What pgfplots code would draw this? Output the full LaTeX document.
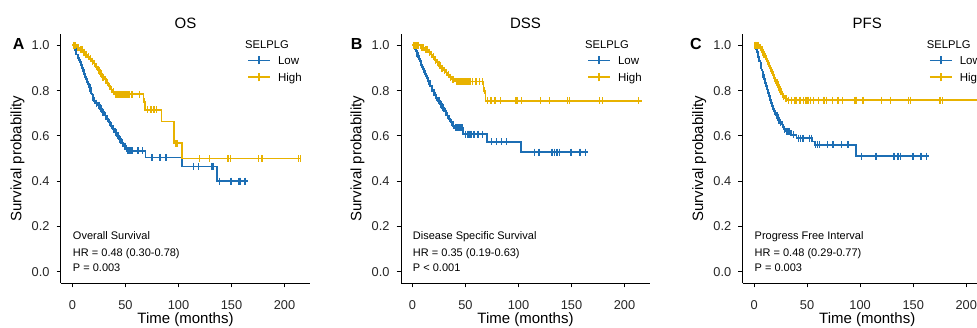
\documentclass[border=0pt]{standalone}
\usepackage{fontspec}
\setmainfont{Liberation Sans}
\usepackage{pgfplots}
\usepackage{pgfplotstable}
\pgfplotsset{compat=1.18}
\definecolor{kmblue}{RGB}{28,110,180}
\definecolor{kmgold}{RGB}{232,178,0}

% ---------- Panel A (OS) ----------
\pgfplotstableread{
t y
0 1.0
2 0.99
3 0.975
4 0.96
5 0.945
6 0.935
7 0.925
8 0.915
9 0.90
10 0.89
11 0.875
12 0.86
13 0.85
14 0.84
15 0.83
16 0.815
17 0.80
18 0.785
19 0.77
20 0.755
22 0.745
24 0.735
26 0.72
28 0.705
30 0.69
32 0.675
34 0.66
36 0.645
38 0.63
40 0.615
42 0.60
44 0.585
46 0.57
48 0.555
51 0.535
69 0.505
103 0.465
136 0.40
166 0.40
}\AlowS
\pgfplotstableread{
t y
1 1.0
2.5 0.99
3.5 0.975
5.5 0.945
7.5 0.925
9.5 0.90
11.5 0.875
13.5 0.85
14.5 0.84
16.5 0.815
17.5 0.80
19.5 0.77
21 0.755
23 0.745
25 0.735
27 0.72
29 0.705
31 0.69
33 0.675
35 0.66
37 0.645
39 0.63
41 0.615
43 0.60
45 0.585
47 0.57
49 0.555
50 0.555
52 0.535
53 0.535
54 0.535
55 0.535
55.5 0.535
56 0.535
57 0.535
62 0.535
66 0.535
75 0.505
82.7 0.505
88.4 0.505
114 0.465
119 0.465
131 0.465
132.5 0.465
138.7 0.40
149.4 0.40
157 0.40
158 0.40
162.6 0.40
}\AlowC
\pgfplotstableread{
t y
0 1.0
4 0.99
7 0.98
10 0.97
12 0.96
14 0.95
16 0.94
18 0.93
20 0.92
22 0.905
24 0.89
26 0.875
28 0.86
30 0.85
32 0.835
34 0.82
36 0.805
38 0.795
40 0.784
67 0.75
68.5 0.716
84 0.664
95.5 0.567
103.5 0.50
215 0.50
}\AhighS
\pgfplotstableread{
t y
1 1.0
2 1.0
3 1.0
5 0.99
6 0.99
8 0.98
9 0.98
11 0.97
13 0.96
15 0.95
17 0.94
19 0.93
21 0.92
23 0.905
25 0.89
27 0.875
29 0.86
31 0.85
33 0.835
35 0.82
37 0.805
39 0.795
41 0.784
42 0.784
43 0.784
44 0.784
45 0.784
46 0.784
47 0.784
48 0.784
49 0.784
50 0.784
51 0.784
52 0.784
53 0.784
54 0.784
56 0.784
57 0.784
63 0.784
67.7 0.75
70.8 0.716
74 0.716
77 0.716
79.6 0.716
97 0.567
98.5 0.567
120 0.50
129 0.50
146.6 0.50
148.8 0.50
175.5 0.50
178.7 0.50
213 0.50
214.8 0.50
}\AhighC

% ---------- Panel B (DSS) ----------
\pgfplotstableread{
t y
0 1.0
2 0.985
4 0.965
5 0.95
6 0.94
7 0.93
8 0.915
9 0.905
10 0.895
11 0.885
12 0.875
13 0.865
14 0.855
15 0.84
16 0.83
17 0.82
18 0.81
19 0.80
20 0.79
21 0.78
22 0.77
24 0.755
26 0.74
28 0.725
30 0.71
32 0.69
34 0.675
36 0.66
38 0.645
40 0.635
48 0.608
70 0.574
102.3 0.528
166 0.528
}\BlowS
\pgfplotstableread{
t y
1 1.0
3 0.985
4.5 0.965
6.5 0.94
8.5 0.915
10.5 0.895
12.5 0.875
14.5 0.855
16.5 0.83
18.5 0.81
20.5 0.79
21.5 0.78
23 0.77
25 0.755
27 0.74
29 0.725
31 0.71
33 0.69
35 0.675
37 0.66
39 0.645
41 0.635
43 0.635
45 0.635
46 0.635
47 0.635
50 0.608
52 0.608
53 0.608
54 0.608
55 0.608
56 0.608
58 0.608
62 0.608
66 0.608
74.9 0.574
79.6 0.574
84.3 0.574
89 0.574
114.8 0.528
119.5 0.528
131.5 0.528
133.7 0.528
136.2 0.528
138.7 0.528
149.4 0.528
157.3 0.528
158.2 0.528
162.9 0.528
}\BlowC
\pgfplotstableread{
t y
0 1.0
8 0.99
12 0.98
15 0.97
17 0.96
19 0.95
21 0.935
23 0.925
25 0.91
27 0.90
29 0.89
31 0.88
33 0.87
35 0.86
37 0.85
40 0.84
67 0.80
69 0.756
216 0.756
}\BhighS
\pgfplotstableread{
t y
1 1.0
2 1.0
3 1.0
4 1.0
5 1.0
6 1.0
9 0.99
10 0.99
13 0.98
14 0.98
16 0.97
18 0.96
20 0.95
22 0.935
24 0.925
26 0.91
28 0.90
30 0.89
32 0.88
34 0.87
36 0.86
38 0.85
39 0.85
42 0.84
43 0.84
44 0.84
45 0.84
46 0.84
47 0.84
48 0.84
49 0.84
50 0.84
51 0.84
52 0.84
53 0.84
54 0.84
55 0.84
57 0.84
60 0.84
63 0.84
66 0.84
68 0.80
70.8 0.756
74 0.756
78 0.756
83.4 0.756
96.9 0.756
98.5 0.756
103.2 0.756
120.5 0.756
129.2 0.756
146.2 0.756
148.1 0.756
176.1 0.756
179.2 0.756
213.2 0.756
}\BhighC

% ---------- Panel C (PFS) ----------
\pgfplotstableread{
t y
0 1.0
2 0.985
3 0.97
4 0.95
5 0.93
6 0.91
7 0.89
8 0.87
9 0.85
10 0.835
11 0.82
12 0.805
13 0.79
14 0.775
15 0.76
16 0.745
17 0.73
18 0.72
19 0.71
20 0.70
21 0.69
22 0.68
23 0.67
24 0.66
26 0.65
27 0.64
28 0.63
30 0.62
35 0.605
40 0.59
55 0.575
57 0.561
96.2 0.511
165 0.511
}\ClowS
\pgfplotstableread{
t y
1 1.0
2.5 0.985
4.5 0.95
6.5 0.91
8.5 0.87
10.5 0.835
11.5 0.82
12.5 0.805
13.5 0.79
14.5 0.775
16.5 0.745
17.5 0.73
18.5 0.72
19.5 0.71
21.5 0.69
22.5 0.68
23.5 0.67
25 0.66
26.5 0.65
29 0.63
31 0.62
33 0.62
37 0.605
42 0.59
44 0.59
46 0.59
52 0.59
54 0.59
58 0.561
60 0.561
62 0.561
68.9 0.561
74.5 0.561
82.4 0.561
88.6 0.561
101.2 0.511
115 0.511
131.1 0.511
132.6 0.511
135.8 0.511
137.9 0.511
149.9 0.511
156.8 0.511
157.7 0.511
162.4 0.511
}\ClowC
\pgfplotstableread{
t y
0 1.0
5 0.99
7 0.98
8 0.97
9 0.96
10 0.95
11 0.94
12 0.93
13 0.92
14 0.91
15 0.90
16 0.89
17 0.88
18 0.87
19 0.855
20 0.845
21 0.835
22 0.825
23 0.815
24 0.805
25 0.795
26 0.785
27 0.775
29 0.765
31 0.758
216 0.758
}\ChighS
\pgfplotstableread{
t y
1 1.0
2 1.0
3 1.0
4 1.0
6 0.99
7.5 0.98
8.5 0.97
9.5 0.96
10.5 0.95
11.5 0.94
12.5 0.93
13.5 0.92
14.5 0.91
15.5 0.90
16.5 0.89
17.5 0.88
18.5 0.87
19.5 0.855
20.5 0.845
21.5 0.835
22.5 0.825
23.5 0.815
24.5 0.805
25.5 0.795
26.5 0.785
28 0.775
30 0.765
32.5 0.758
35.6 0.758
38.7 0.758
40.3 0.758
43.4 0.758
46.6 0.758
48.2 0.758
49.8 0.758
51.3 0.758
52.9 0.758
56 0.758
60.8 0.758
65.5 0.758
66.7 0.758
68.6 0.758
74 0.758
79.2 0.758
83.4 0.758
95 0.758
96.6 0.758
102.8 0.758
120.2 0.758
128.7 0.758
145.3 0.758
147.5 0.758
175.2 0.758
177.7 0.758
}\ChighC

\pgfplotsset{
  km/.style={
    scale only axis, width=249pt, height=248.7pt,
    xmin=-10.7, xmax=224, ymin=-0.05, ymax=1.049,
    axis x line*=bottom, axis y line*=left,
    axis line style={line width=1pt, black, -},
    xtick={0,50,100,150,200}, ytick={0,0.2,0.4,0.6,0.8,1},
    tick align=outside, major tick length=4.3pt,
    tick style={line width=1pt, black},
    /pgf/number format/assume math mode=true,
    yticklabel style={/pgf/number format/fixed,/pgf/number format/fixed zerofill,/pgf/number format/precision=1,
      anchor=east, inner sep=0pt, xshift=-7pt},
    xticklabel style={anchor=base, inner sep=0pt, yshift=-22pt},
    ticklabel style={font=\fontsize{12.8}{14}\selectfont, text=black!85},
    every axis x label/.style={at={(rel axis cs:0.5,0)}, anchor=base, yshift=-40.3pt, font=\fontsize{15}{18}\selectfont},
    every axis y label/.style={at={(rel axis cs:0,0.5)}, anchor=center, xshift=-43.5pt, rotate=90, font=\fontsize{15}{18}\selectfont},
    every axis title/.style={at={(rel axis cs:0.5,1)}, anchor=base, yshift=6pt, font=\fontsize{15}{18}\selectfont},
    xlabel={Time (months)}, ylabel={Survival probability},
    legend style={at={(rel axis cs:0.748,0.861)}, anchor=west, draw=none, fill=none,
      inner sep=0pt, outer sep=0pt, row sep=7.5pt, column sep=7pt,
      nodes={inner sep=0pt, text height=8.2pt, text depth=0pt, font=\fontsize{11.5}{13}\selectfont},
      cells={anchor=west}},
    legend image code/.code={
      \draw[#1, line width=1.8pt] (0pt,0pt) -- (22pt,0pt);
      \draw[#1, line width=1.4pt] (11pt,-4pt) -- (11pt,4pt);
    },
  },
  kmstep/.style={const plot, line width=1.8pt, color=#1},
  kmcens/.style={only marks, mark=|, mark size=3.5pt, color=#1, mark options={line width=1.3pt, color=#1}, forget plot},
}

\newcommand{\legtitle}{\node[anchor=base west, font=\fontsize{11.2}{13}\selectfont, inner sep=0pt] at (rel axis cs:0.739,0.9437) {SELPLG};}

\begin{document}
\begin{tikzpicture}[x=1pt,y=1pt]
% Panel A
\begin{axis}[km, at={(61pt,44pt)}, anchor=south west, title={OS}]
  \addplot[kmstep=kmblue] table[x=t,y=y] {\AlowS};
  \addlegendentry{Low}
  \addplot[kmstep=kmgold] table[x=t,y=y] {\AhighS};
  \addlegendentry{High}
  \addplot[kmcens=kmblue] table[x=t,y=y] {\AlowC};
  \addplot[kmcens=kmgold] table[x=t,y=y] {\AhighC};
  \legtitle
  \node[anchor=base west, font=\fontsize{11}{13}\selectfont, inner sep=0pt] at (axis cs:0.4,0.142) {Overall Survival};
  \node[anchor=base west, font=\fontsize{11}{13}\selectfont, inner sep=0pt] at (axis cs:0.4,0.0685) {HR = 0.48 (0.30-0.78)};
  \node[anchor=base west, font=\fontsize{11}{13}\selectfont, inner sep=0pt] at (axis cs:0.4,0.0022) {P = 0.003};
\end{axis}
% Panel B
\begin{axis}[km, at={(401pt,44pt)}, anchor=south west, title={DSS}]
  \addplot[kmstep=kmblue] table[x=t,y=y] {\BlowS};
  \addlegendentry{Low}
  \addplot[kmstep=kmgold] table[x=t,y=y] {\BhighS};
  \addlegendentry{High}
  \addplot[kmcens=kmblue] table[x=t,y=y] {\BlowC};
  \addplot[kmcens=kmgold] table[x=t,y=y] {\BhighC};
  \legtitle
  \node[anchor=base west, font=\fontsize{11}{13}\selectfont, inner sep=0pt] at (axis cs:0.4,0.142) {Disease Specific Survival};
  \node[anchor=base west, font=\fontsize{11}{13}\selectfont, inner sep=0pt] at (axis cs:0.4,0.0685) {HR = 0.35 (0.19-0.63)};
  \node[anchor=base west, font=\fontsize{11}{13}\selectfont, inner sep=0pt] at (axis cs:0.4,0.0022) {P < 0.001};
\end{axis}
% Panel C
\begin{axis}[km, at={(742.7pt,44pt)}, anchor=south west, title={PFS}]
  \addplot[kmstep=kmblue] table[x=t,y=y] {\ClowS};
  \addlegendentry{Low}
  \addplot[kmstep=kmgold] table[x=t,y=y] {\ChighS};
  \addlegendentry{High}
  \addplot[kmcens=kmblue] table[x=t,y=y] {\ClowC};
  \addplot[kmcens=kmgold] table[x=t,y=y] {\ChighC};
  \legtitle
  \node[anchor=base west, font=\fontsize{11}{13}\selectfont, inner sep=0pt] at (axis cs:0.4,0.142) {Progress Free Interval};
  \node[anchor=base west, font=\fontsize{11}{13}\selectfont, inner sep=0pt] at (axis cs:0.4,0.0685) {HR = 0.48 (0.29-0.77)};
  \node[anchor=base west, font=\fontsize{11}{13}\selectfont, inner sep=0pt] at (axis cs:0.4,0.0022) {P = 0.003};
\end{axis}
\node[anchor=base west, inner sep=0pt, font=\fontsize{16}{18}\selectfont\bfseries] at (12.7,277.3) {A};
\node[anchor=base west, inner sep=0pt, font=\fontsize{16}{18}\selectfont\bfseries] at (350.7,277.3) {B};
\node[anchor=base west, inner sep=0pt, font=\fontsize{16}{18}\selectfont\bfseries] at (690,277.3) {C};
\pgfresetboundingbox
\path[use as bounding box] (0,0) rectangle (977,327);
\end{tikzpicture}
\end{document}
